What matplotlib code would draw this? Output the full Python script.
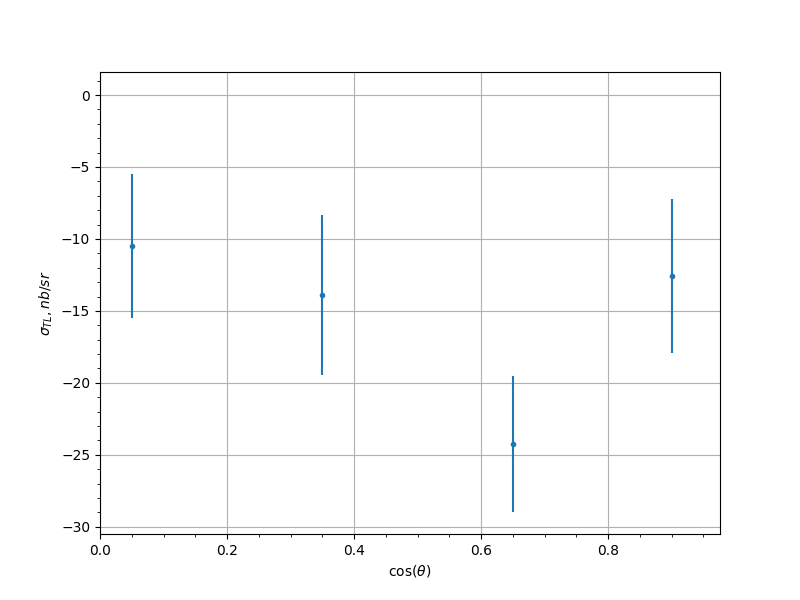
import numpy as np
import matplotlib.pyplot as plt

# data
cos_theta = [0.05, 0.35, 0.65, 0.9]
sigma_tl = [-10.5, -13.9, -24.25, -12.55]
sigma_err = [5.0, 5.55, 4.75, 5.35]

fig, ax = plt.subplots(figsize=(8, 6), dpi=100)
ax.errorbar(cos_theta, sigma_tl, yerr=sigma_err, fmt='.')

ax.set_xlim(0, 0.976)
ax.set_ylim(-30.5, 1.6)
ax.minorticks_on()
ax.grid(True)
ax.set_xlabel(r'$\cos(\theta)$')
ax.set_ylabel(r'$\sigma_{TL}, nb/sr$')

plt.savefig('out.png')
